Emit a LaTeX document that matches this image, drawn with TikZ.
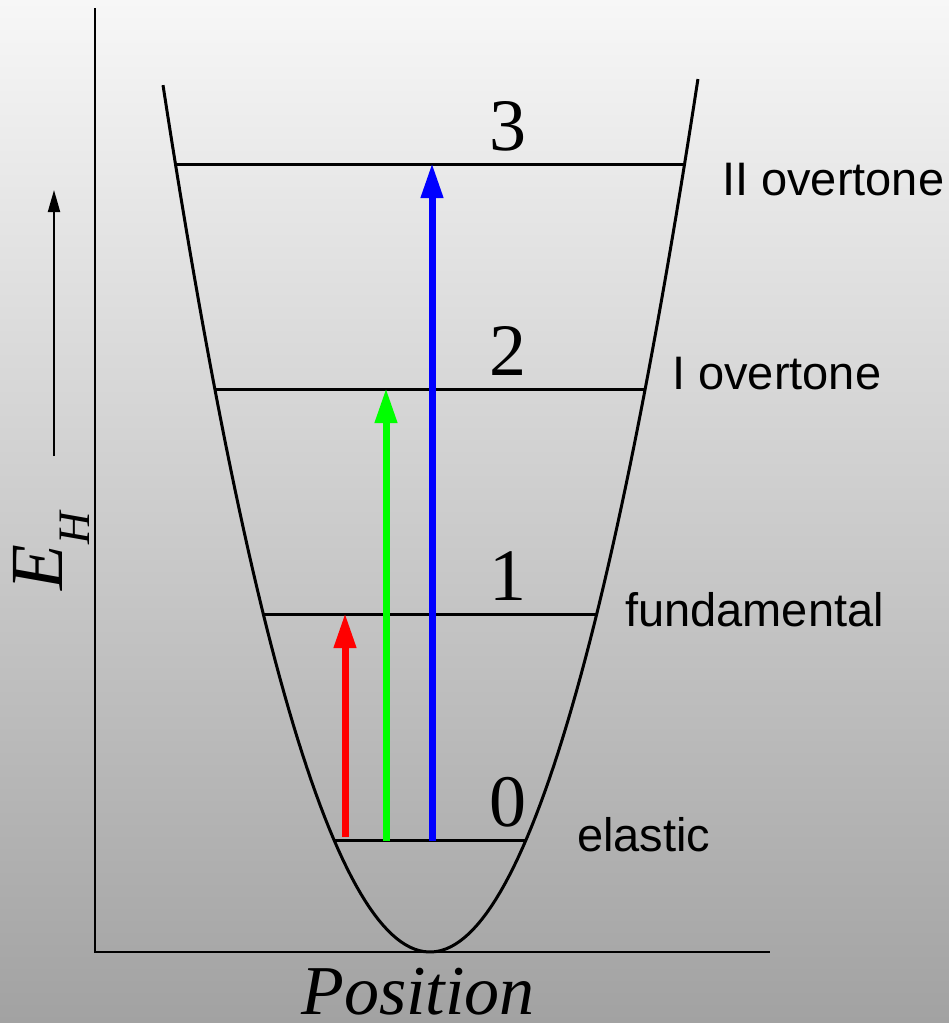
\documentclass[tikz,border=0pt]{standalone}
\usepackage{fontspec}
\setmainfont{Liberation Serif}
\newfontfamily\labelsans{Liberation Sans}
\usetikzlibrary{arrows.meta}

\definecolor{bgtop}{RGB}{247,247,247}
\definecolor{bgbottom}{RGB}{162,162,162}
\definecolor{transred}{RGB}{255,0,0}
\definecolor{transgreen}{RGB}{0,255,0}
\definecolor{transblue}{RGB}{0,0,255}

\begin{document}
\begin{tikzpicture}[
    x=1pt, y=-1pt,
    axis/.style={line width=2pt, black},
    well/.style={line width=3pt, black},
    level/.style={line width=3pt, black},
    trans/.style={line width=7pt, -{Triangle[length=35pt, width=21pt]}},
    levelnum/.style={font=\fontsize{74}{74}\selectfont, anchor=base, inner sep=0pt},
    levelname/.style={font=\labelsans\fontsize{47}{47}\selectfont, anchor=west, inner sep=0pt}
]

% frame and background
\useasboundingbox (0,0) rectangle (949,1023);
\fill[top color=bgtop, bottom color=bgbottom] (0,0) rectangle (949,1023);

% axes
\coordinate (origin) at (95,952);
\coordinate (ytop) at (95,8);
\coordinate (xend) at (770,952);
\draw[axis] (ytop) -- (origin) -- (xend);

% potential well
\draw[well] plot[domain=-2.67:2.68, samples=120] ({430+100*\x}, {952-121.6*\x*\x});

% vibrational levels
\foreach \n/\y in {0/840, 1/614, 2/389, 3/164} {
  \pgfmathsetmacro\dx{10*sqrt((952-\y)/1.216)}
  \coordinate (lvl\n l) at ({430-\dx}, \y);
  \coordinate (lvl\n r) at ({430+\dx}, \y);
  \draw[level] (lvl\n l) -- (lvl\n r);
  \node[levelnum] (num\n) at (508, \y-14) {\n};
}

% level names
\node[levelname] (elastic) at (577,835) {elastic};
\node[levelname] (fund) at (625,610) {fundamental};
\node[levelname] (over1) at (672,374) {I overtone};
\node[levelname] (over2) at (722,180) {II overtone};

% transitions
\coordinate (red0) at (345,837);
\coordinate (red1) at (345,613);
\coordinate (green0) at (386,841);
\coordinate (green2) at (386,388);
\coordinate (blue0) at (432,841);
\coordinate (blue3) at (432,163);
\draw[trans, transred] (red0) -- (red1);
\draw[trans, transgreen] (green0) -- (green2);
\draw[trans, transblue] (blue0) -- (blue3);

% energy axis label
\coordinate (ebot) at (54,456);
\coordinate (etop) at (54,190);
\draw[line width=2pt, -{Triangle[length=22pt, width=12pt]}] (ebot) -- (etop);
\node[rotate=90, inner sep=0pt] (energy) at (51,551)
  {\fontsize{75}{75}\selectfont\itshape E\fontsize{45}{45}\selectfont\raisebox{-27pt}{H}};

\node[anchor=base, inner sep=0pt, font=\fontsize{70}{70}\selectfont\itshape] (pos) at (418,1014) {Position};

\end{tikzpicture}
\end{document}
